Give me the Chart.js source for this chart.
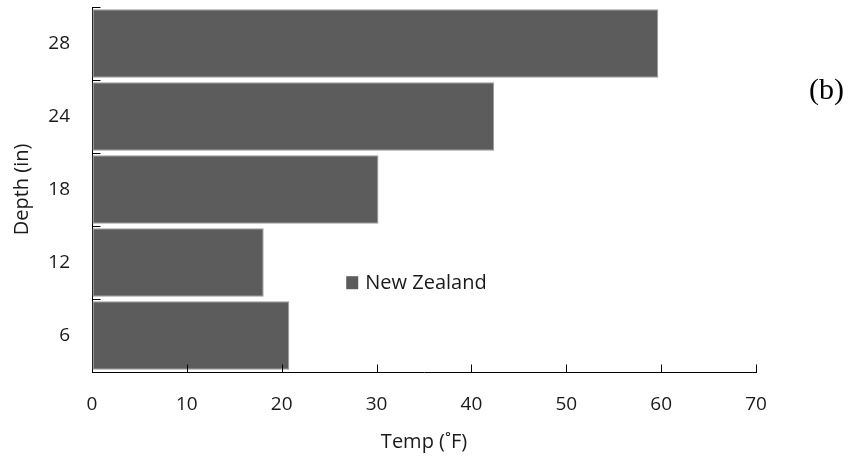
<!DOCTYPE html>
<html>
<head>
<meta charset="utf-8">
<script src="https://cdn.jsdelivr.net/npm/chart.js@4"></script>
<style>
html,body{margin:0;padding:0;background:#fff;}
#wrap{position:relative;width:850px;height:460px;}
</style>
</head>
<body>
<div id="wrap"><canvas id="c" width="850" height="460"></canvas></div>
<script>
const depths = ['28', '24', '18', '12', '6'];
const tempsNZ = [59.7, 42.4, 30.2, 18.1, 20.8];
const xTicks = [0, 10, 20, 30, 40, 50, 60, 70];
const seriesName = 'New Zealand';
const panelLabel = '(b)';

const FONT = '"Open Sans", "DejaVu Sans", sans-serif';
const BAR = '#5c5c5c';
const TXT = '#1a1a1a';

const decor = {
  id: 'decor',
  afterDraw(chart) {
    const ctx = chart.ctx;
    const xs = chart.scales.x, ys = chart.scales.y;
    ctx.save();
    ctx.strokeStyle = '#000';
    ctx.lineWidth = 1;
    const yb = Math.round(ys.bottom) + 0.5;
    xTicks.forEach(v => {
      if (v === 0) return;
      const px = Math.round(xs.getPixelForValue(v)) + 0.5;
      ctx.beginPath(); ctx.moveTo(px, yb); ctx.lineTo(px, yb - 8); ctx.stroke();
    });
    const xl = Math.round(xs.left) + 0.5;
    for (let i = 0; i < depths.length; i++) {
      const py = Math.round(ys.getPixelForValue(i - 0.5)) + 0.5;
      ctx.beginPath(); ctx.moveTo(xl, py); ctx.lineTo(xl + 8, py); ctx.stroke();
    }
    const lx = xs.getPixelForValue(26.8), ly = ys.getPixelForValue(3.27);
    ctx.fillStyle = BAR;
    ctx.fillRect(lx, ly - 6, 12, 13);
    ctx.fillStyle = TXT;
    ctx.font = '20px ' + FONT;
    ctx.textBaseline = 'middle';
    ctx.textAlign = 'left';
    ctx.fillText(chart.data.datasets[0].label, lx + 19, ly + 1);
    ctx.font = '30px "Liberation Serif", serif';
    ctx.fillStyle = '#000';
    ctx.fillText(panelLabel, 809, 91);
    ctx.restore();
  }
};

new Chart(document.getElementById('c'), {
  type: 'bar',
  data: {
    labels: depths,
    datasets: [{
      label: seriesName,
      data: tempsNZ,
      backgroundColor: BAR,
      borderColor: '#9c9c9c',
      borderWidth: 1,
      borderSkipped: false,
      barPercentage: 0.94,
      categoryPercentage: 1.0
    }]
  },
  options: {
    indexAxis: 'y',
    responsive: false,
    animation: false,
    layout: { padding: { left: 0, right: 94, top: 7, bottom: 0 } },
    plugins: { legend: { display: false }, tooltip: { enabled: false } },
    scales: {
      x: {
        type: 'linear',
        min: 0, max: 70,
        afterFit(s) { s.height = 88; s.paddingLeft = 0; s.paddingRight = 0; },
        afterBuildTicks(s) { s.ticks = xTicks.map(v => ({ value: v })); },
        grid: { display: true, drawOnChartArea: false, drawTicks: false },
        border: { display: true, color: '#000', width: 1 },
        ticks: { padding: 21, color: TXT, font: { family: FONT, size: 19 } },
        title: { display: true, text: 'Temp (˚F)', color: TXT, font: { family: FONT, size: 20 }, padding: { top: 0, bottom: 6 } }
      },
      y: {
        type: 'category',
        offset: true,
        afterFit(s) { s.width = 92; s.paddingTop = 0; s.paddingBottom = 0; },
        grid: { display: false, drawTicks: false },
        border: { display: true, color: '#000', width: 1 },
        ticks: { padding: 22, color: TXT, font: { family: FONT, size: 19 } },
        title: { display: true, text: 'Depth (in)', color: TXT, font: { family: FONT, size: 20 }, padding: { top: 10, bottom: 0 } }
      }
    }
  },
  plugins: [decor]
});
</script>
</body>
</html>
